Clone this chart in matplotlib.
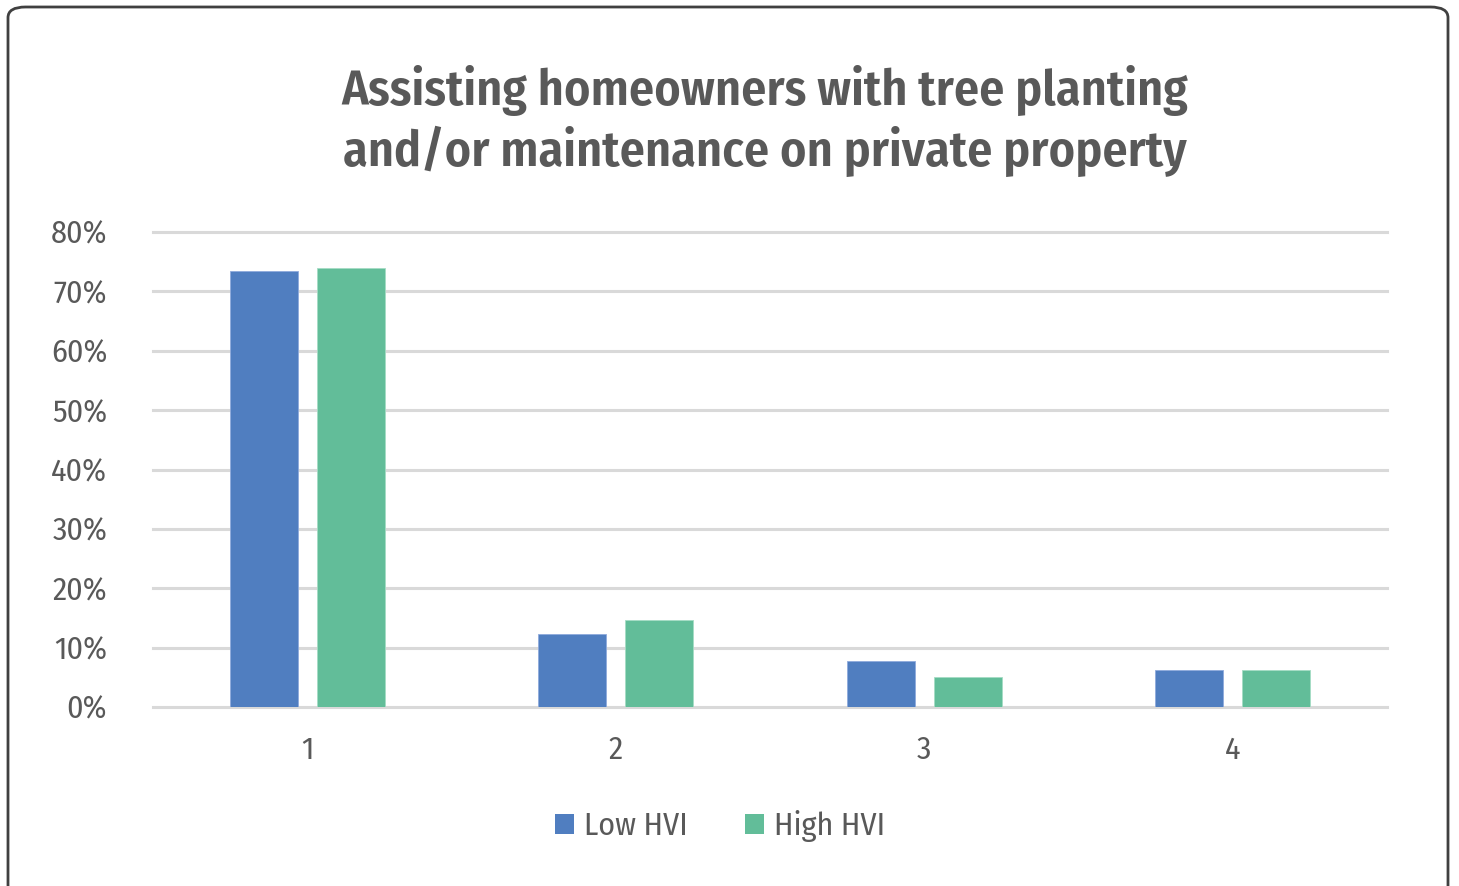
import matplotlib
matplotlib.use("Agg")
import matplotlib.pyplot as plt
from matplotlib import font_manager
from matplotlib.patches import FancyBboxPatch, Patch

# Share of respondents per rating, by heat vulnerability index group
categories = ["1", "2", "3", "4"]
low_hvi = [0.734, 0.123, 0.077, 0.063]
high_hvi = [0.740, 0.146, 0.050, 0.063]
y_ticks = [0.0, 0.1, 0.2, 0.3, 0.4, 0.5, 0.6, 0.7, 0.8]

title = "Assisting homeowners with tree planting\nand/or maintenance on private property"

blue = "#507EC0"
green = "#62BD99"
text_gray = "#595959"
grid_gray = "#D9D9D9"

# pick a condensed sans if one is installed
installed = {f.name for f in font_manager.fontManager.ttflist}
for fam in ["Fira Sans Condensed", "Roboto Condensed", "Open Sans Condensed",
            "Encode Sans Condensed", "Asap Condensed", "Archivo Narrow"]:
    if fam in installed:
        break
else:
    fam = "DejaVu Sans"
plt.rcParams["font.family"] = [fam, "DejaVu Sans"]

W, H = 1459, 886
fig = plt.figure(figsize=(W / 100, H / 100), dpi=100)

# rounded outer frame, bottom edge runs off the canvas
frame = FancyBboxPatch((8 / W, -10 / H), 1440 / W, 889 / H,
                       boxstyle="round,pad=0,rounding_size=0.012",
                       transform=fig.transFigure, facecolor="none",
                       edgecolor="#404040", linewidth=2, zorder=-1)
fig.patches.append(frame)

ax = fig.add_axes([153 / W, (H - 707) / H, 1234 / W, 475 / H])
ax.set_facecolor("none")

x = list(range(1, len(categories) + 1))
width = 0.22
offset = 0.141
ax.bar([i - offset for i in x], low_hvi, width=width, color=blue,
       edgecolor="#8FAADC", linewidth=0.6, label="Low HVI", zorder=3)
ax.bar([i + offset for i in x], high_hvi, width=width, color=green,
       edgecolor="#A5DCC4", linewidth=0.6, label="High HVI", zorder=3)

ax.set_xlim(0.5, len(categories) + 0.5)
ax.set_ylim(0, 0.8)
ax.set_yticks(y_ticks)
ax.set_yticklabels([f"{int(round(v * 100))}%" for v in y_ticks])
ax.set_xticks(x)
ax.set_xticklabels(categories)

for v in y_ticks:
    ax.axhline(v, color=grid_gray, linewidth=2.2, zorder=1, clip_on=False)

for s in ax.spines.values():
    s.set_visible(False)
ax.tick_params(axis="both", length=0, labelsize=23, labelcolor=text_gray)
ax.tick_params(axis="y", pad=33)
ax.tick_params(axis="x", pad=20)

fig.text(765 / W, 1 - 121 / H, title, ha="center", va="center",
         fontsize=36, fontweight="semibold", color=text_gray, linespacing=1.25)

handles = [Patch(facecolor=blue, label="Low HVI"),
           Patch(facecolor=green, label="High HVI")]
fig.legend(handles=handles, loc="center", bbox_to_anchor=(720 / W, 1 - 826 / H),
           ncol=2, frameon=False, fontsize=23,
           labelcolor=text_gray, handlelength=0.6, handleheight=0.6,
           handletextpad=0.3, columnspacing=1.8)

fig.savefig("out.png", dpi=100)
